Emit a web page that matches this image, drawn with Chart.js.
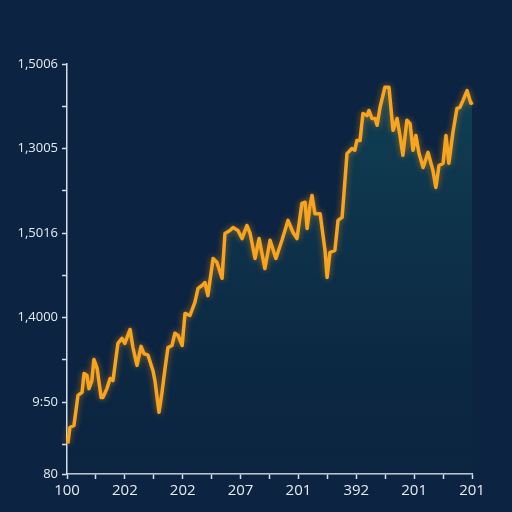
<!DOCTYPE html>
<html>
<head>
<meta charset="utf-8">
<script src="https://cdn.jsdelivr.net/npm/chart.js@4.4.0/dist/chart.umd.min.js"></script>
<style>
  body { margin: 0; background: #0c2441; }
  canvas { display: block; }
</style>
</head>
<body>
<canvas id="chart" width="512" height="512"></canvas>
<script>
// x position along the axis (one unit = half a labelled interval)
const xValues = [
  0.03, 0.10, 0.24, 0.38, 0.52, 0.59, 0.69, 0.76, 0.86, 0.93,
  1.04, 1.18, 1.24, 1.38, 1.49, 1.59, 1.76, 1.90, 2.00, 2.18,
  2.28, 2.42, 2.56, 2.66, 2.80, 2.97, 3.04, 3.18, 3.28, 3.39,
  3.49, 3.63, 3.73, 3.84, 3.98, 4.08, 4.25, 4.42, 4.53, 4.67,
  4.77, 4.87, 5.05, 5.18, 5.36, 5.46, 5.63, 5.74, 5.91, 6.05,
  6.22, 6.33, 6.50, 6.64, 6.84, 7.02, 7.22, 7.43, 7.64, 7.81,
  7.95, 8.12, 8.23, 8.30, 8.40, 8.47, 8.57, 8.75, 8.92, 8.99,
  9.09, 9.26, 9.37, 9.51, 9.68, 9.85, 9.95, 10.02, 10.13, 10.23,
  10.37, 10.44, 10.54, 10.65, 10.72, 10.82, 10.99, 11.13, 11.27, 11.41,
  11.51, 11.61, 11.75, 11.86, 11.96, 12.06, 12.17, 12.31, 12.48, 12.65,
  12.75, 12.86, 13.00, 13.10, 13.20, 13.34, 13.48, 13.58, 13.69, 13.83,
  13.96, 14.03, 14.10, 14.17
];

// series values
const yValues = [
  0.02, 0.40, 0.45, 1.16, 1.23, 1.68, 1.63, 1.32, 1.51, 2.01,
  1.80, 1.11, 1.11, 1.32, 1.56, 1.51, 2.39, 2.51, 2.39, 2.72,
  2.29, 1.87, 2.32, 2.15, 2.11, 1.75, 1.51, 0.76, 1.21, 1.80,
  2.29, 2.34, 2.63, 2.58, 2.34, 3.10, 3.05, 3.36, 3.69, 3.76,
  3.83, 3.52, 4.40, 4.31, 3.93, 4.99, 5.06, 5.13, 5.06, 4.87,
  5.18, 4.99, 4.40, 4.87, 4.16, 4.83, 4.40, 4.83, 5.30, 5.02,
  4.87, 5.70, 5.73, 5.11, 5.65, 5.89, 5.46, 5.46, 4.59, 3.95,
  4.54, 4.59, 5.30, 5.37, 6.88, 7.00, 6.96, 7.19, 7.19, 7.83,
  7.78, 7.90, 7.71, 7.71, 7.55, 7.97, 8.45, 8.45, 7.43, 7.71,
  7.31, 6.84, 7.67, 7.59, 6.96, 7.31, 6.88, 6.55, 6.91, 6.48,
  6.08, 6.60, 6.65, 7.31, 6.65, 7.38, 7.95, 7.97, 8.14, 8.37,
  8.07, 8.09, 7.43, 8.09
];

// tick labels (empty ones are the small in-between ticks)
const xTickValues = [0, 1, 2, 3, 4, 5, 6, 7, 8, 9, 10, 11, 12, 13, 14];
const xTickLabels = ["100", "", "202", "", "202", "", "207", "", "201", "", "392", "", "201", "", "201"];
const yTickValues = [-0.7, 0, 1, 2, 3, 4, 5, 6, 7, 8, 9];
const yTickLabels = ["80", "", "9:50", "", "1,4000", "", "1,5016", "", "1,3005", "", "1,5006"];

const points = xValues.map((x, i) => ({ x, y: yValues[i] }));

const axisColor = "#d3dee8";
const textColor = "#e4ebf2";

// soft orange glow round the line only (filler has already drawn by now)
const glow = {
  id: "glow",
  beforeDatasetDraw(chart) {
    const ctx = chart.ctx;
    ctx.save();
    ctx.shadowColor = "rgba(255,150,20,0.55)";
    ctx.shadowBlur = 6;
  },
  afterDatasetDraw(chart) {
    chart.ctx.restore();
  }
};

const data = {
  datasets: [
    {
      data: points,
      borderColor: "#f7a51e",
      borderWidth: 3.5,
      borderJoinStyle: "round",
      pointRadius: 0,
      tension: 0,
      clip: false,
      fill: "start",
      backgroundColor: (ctx) => {
        const area = ctx.chart.chartArea;
        if (!area) return "rgba(20,80,95,0.4)";
        const g = ctx.chart.ctx.createLinearGradient(0, area.top, 0, area.bottom);
        g.addColorStop(0, "rgba(20,88,100,0.6)");
        g.addColorStop(0.45, "rgba(16,70,88,0.4)");
        g.addColorStop(1, "rgba(12,40,66,0.15)");
        return g;
      }
    }
  ]
};

const config = {
  type: "line",
  data,
  plugins: [glow],
  options: {
    responsive: false,
    animation: false,
    layout: { padding: { top: 64, right: 40, left: 0, bottom: 0 } },
    plugins: { legend: { display: false }, tooltip: { enabled: false } },
    scales: {
      x: {
        type: "linear",
        min: 0,
        max: 14,
        afterFit: (s) => { s.height = 38; },
        afterBuildTicks: (s) => { s.ticks = xTickValues.map((v) => ({ value: v })); },
        ticks: {
          autoSkip: false,
          maxRotation: 0,
          padding: 3,
          color: textColor,
          font: { family: "Open Sans", size: 15 },
          callback: (v, i) => xTickLabels[i]
        },
        grid: { drawOnChartArea: false, drawTicks: true, tickLength: 5, tickColor: axisColor, tickWidth: 1.5 },
        border: { display: true, color: axisColor, width: 1.5 }
      },
      y: {
        type: "linear",
        min: -0.7,
        max: 9,
        afterFit: (s) => { s.width = 67; },
        afterBuildTicks: (s) => { s.ticks = yTickValues.map((v) => ({ value: v })); },
        ticks: {
          autoSkip: false,
          padding: 4,
          color: textColor,
          font: { family: "Open Sans", size: 13 },
          callback: (v, i) => yTickLabels[i]
        },
        grid: { drawOnChartArea: false, drawTicks: true, tickLength: 5, tickColor: axisColor, tickWidth: 1.5 },
        border: { display: true, color: axisColor, width: 1.5 }
      }
    }
  }
};

const canvas = document.getElementById("chart");
const chart = new Chart(canvas, config);
</script>
</body>
</html>
